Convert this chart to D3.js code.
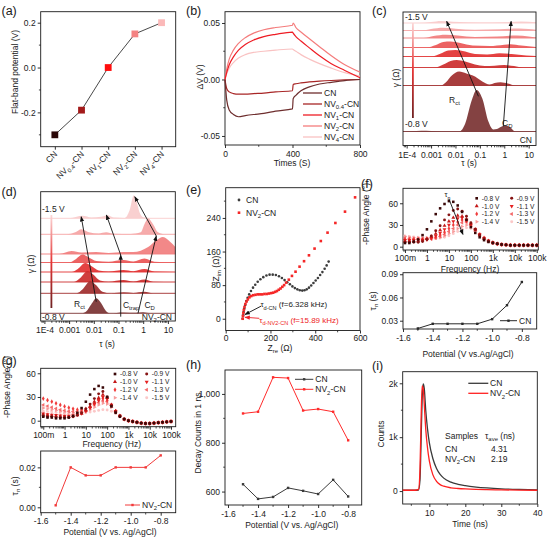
<!DOCTYPE html>
<html>
<head>
<meta charset="utf-8">
<title>flat-band / DRT / EIS / PL panels</title>
<script src="https://cdn.jsdelivr.net/npm/d3@7"></script>
<style>
  body { margin: 0; background: #fff; }
  svg { display: block; }
</style>
</head>
<body>
<script>
// ---------------- data ----------------
// (a) flat-band potential
var samples = ["CN", "NV_{0.4}-CN", "NV_{1}-CN", "NV_{2}-CN", "NV_{4}-CN"];
var flatBand = [-0.30, -0.19, 0.00, 0.15, 0.20];
var sampleColors = ["#2b0808", "#a31a1a", "#ff0d0d", "#f48383", "#fbb9b9"];

// (b) transient photovoltage, time in s
var timeB  = [0, 10, 25, 50, 80, 120, 170, 230, 300, 400, 404, 420, 450, 500, 560, 630, 710, 800];
var dvCN   = [0, -0.018, -0.027, -0.031, -0.033, -0.032, -0.031, -0.030, -0.028, -0.026, -0.017, -0.014, -0.010, -0.0065, -0.004, -0.0025, -0.001, 0];
var dvNV04 = [0, -0.008, -0.011, -0.0125, -0.013, -0.013, -0.0125, -0.012, -0.011, -0.010, -0.0045, -0.0038, -0.003, -0.0022, -0.0015, -0.0009, -0.0004, 0];
var dvNV1  = [0, 0.006, 0.013, 0.020, 0.026, 0.031, 0.035, 0.038, 0.040, 0.042, 0.041, 0.038, 0.034, 0.028, 0.021, 0.014, 0.008, 0.0015];
var dvNV2  = [0, 0.009, 0.018, 0.026, 0.032, 0.037, 0.041, 0.044, 0.046, 0.048, 0.050, 0.046, 0.042, 0.036, 0.029, 0.021, 0.013, 0.0065];
var dvNV4  = [0, 0.005, 0.010, 0.015, 0.019, 0.022, 0.024, 0.025, 0.026, 0.027, 0.0265, 0.025, 0.022, 0.018, 0.014, 0.010, 0.006, 0.003];
var bColors = ["#6e2e2e", "#a82626", "#ee1c24", "#f47c7c", "#f9c2c2"];

// (c) DRT of CN, [log10 tau, gamma] per potential (-0.8 V ... -1.5 V)
var drtC08 = [[-4.15,0],[-3.6,0.6],[-3.2,0.8],[-2.8,0.3],[-2.3,0],[-1.85,0],[-1.6,8],[-1.35,30],[-1.13,41.5],[-0.9,33],[-0.65,10],[-0.45,2],[-0.3,2.5],[-0.1,5],[0.05,6],[0.25,4],[0.45,0],[1.3,0]];
var drtC09 = [[-4.15,0],[-2.6,0],[-2.4,3],[-2.15,10],[-1.85,14],[-1.55,12],[-1.2,9],[-0.9,4],[-0.6,1],[-0.4,2.5],[-0.15,3.3],[0.15,2],[0.45,0],[1.3,0]];
var drtC10 = [[-4.15,0],[-2.85,0],[-2.5,3],[-2.2,6.5],[-1.95,7.6],[-1.6,6],[-1.2,3],[-0.8,1.5],[-0.4,1.8],[0,2.6],[0.4,1.5],[0.8,0],[1.3,0]];
var drtC11 = [[-4.15,0],[-3,0],[-2.6,3],[-2.3,6],[-2.0,6.6],[-1.6,5],[-1.2,2.5],[-0.7,2],[-0.2,3.3],[0.3,2.5],[0.9,1],[1.3,0.5]];
var drtC12 = [[-4.15,0],[-3.2,0],[-2.8,2.5],[-2.5,5.5],[-2.2,6],[-1.8,4.5],[-1.3,2],[-0.6,1.5],[0,2.8],[0.25,3.3],[0.7,2],[1.3,0.5]];
var drtC13 = [[-4.15,0],[-3.3,0],[-2.9,2],[-2.4,3.3],[-1.9,2.5],[-1.2,1],[-0.3,1.5],[0.5,2.5],[1.0,1.5],[1.3,0.5]];
var drtC14 = [[-4.15,0],[-3.4,0],[-3.0,1.5],[-2.5,2.7],[-2.0,1.8],[-1.2,0.8],[-0.2,1.2],[0.6,2],[1.0,1.5],[1.3,0.8]];
var drtC15 = [[-4.15,0],[-3.5,0],[-3,1],[-2.6,2],[-2.1,1.2],[-1,0.5],[0,0.8],[0.7,1.5],[1.3,0.8]];
var offsetsC = [14, 60, 78, 89, 98, 107.5, 115, 122.5];

// (d) DRT of NV2-CN
var drtD08 = [[-4.15,0],[-2.5,0],[-2.3,2],[-2.1,9],[-1.9,15],[-1.7,10],[-1.5,2],[-1.35,0],[-0.8,0.8],[-0.3,0.5],[0,1],[0.3,0],[1.3,0]];
var drtD09 = [[-4.15,0],[-2.7,0],[-2.45,4],[-2.15,12],[-1.9,8],[-1.65,1.5],[-1.3,0],[-0.8,1],[-0.4,0.3],[0.05,1.5],[0.4,0],[1.3,0]];
var drtD10 = [[-4.15,0],[-2.8,0],[-2.55,4],[-2.25,11],[-2.0,7],[-1.75,1.5],[-1.4,0.3],[-0.8,2],[-0.4,0.5],[0.05,2.5],[0.4,0.3],[1.3,0]];
var drtD11 = [[-4.15,0],[-2.9,0],[-2.65,3],[-2.35,9],[-2.1,6],[-1.8,1.5],[-1.4,0.5],[-0.8,2],[-0.4,0.8],[0.05,3],[0.45,0.5],[1.3,0]];
var drtD12 = [[-4.15,0],[-3.0,0],[-2.75,3],[-2.45,8],[-2.2,5],[-1.9,1.5],[-1.4,0.8],[-0.8,2.5],[-0.4,1],[0.05,4],[0.45,0.8],[1.3,0]];
var drtD13 = [[-4.15,0],[-3.4,0],[-2.9,3],[-2.5,1.5],[-1.9,2],[-1.4,1],[-0.8,2],[-0.4,2],[0.2,7],[0.55,14],[0.8,17],[1.1,12],[1.3,7]];
var drtD14 = [[-4.15,0],[-3.1,0],[-2.75,2],[-2.5,5],[-2.2,2],[-1.8,0.8],[-1.5,2],[-1.2,0.5],[-0.5,0.3],[-0.1,2],[0.05,10],[0.2,15.7],[0.4,10],[0.6,2],[0.9,0],[1.3,0]];
var drtD15 = [[-4.15,0],[-3.0,0],[-2.7,1.5],[-2.45,2.5],[-2.1,0.8],[-1.7,1.5],[-1.45,3],[-1.2,0.8],[-0.75,0.3],[-0.55,8],[-0.38,23],[-0.28,18],[-0.15,6],[0,1],[0.4,0],[1.3,0]];
var offsetsD = [7.7, 27.7, 39, 49, 58.5, 67, 86.7, 102.7];
var ridgeColors = ["#7a3232", "#a02c2c", "#cc2c2c", "#e23232", "#ea5656", "#f17e7e", "#f5a4a4", "#f9cccc"];
var tauTicks = [-4, -3, -2, -1, 0, 1];
var tauLabels = ["1E-4", "0.001", "0.01", "0.1", "1", "10"];

// (e) Nyquist plots, Ohm
var zreCN = [76,78,80,83,87,92,98,105,113,122,132,143,155,168,182,196,210,224,238,251,263,275,287,298,309,320,331,342,352,362,372,382,392,402,412,422,432,442,451,460];
var zimCN = [0,8,16,24,33,42,50,58,66,74,81,88,94,99,103,105,105,104,101,97,92,87,82,77,73,70,68,67,68,70,74,79,85,91,97,104,111,119,127,136];
var zreNV = [76,77,79,81,84,88,93,99,106,114,123,133,143,153,163,173,183,193,203,212,221,229,237,245,253,261,270,282,296,312,330,350,372,397,425,455,490,533,578];
var zimNV = [0,7,14,21,28,35,41,46,51,54,56,57,58,58,58,59,59,60,61,62,64,66,69,72,76,80,86,93,102,112,124,137,151,167,185,205,228,255,289];

// (f)(g) Bode phase, log10 frequency
var logFreq = [-1,-0.8,-0.6,-0.4,-0.2,0,0.2,0.4,0.6,0.8,1,1.2,1.4,1.6,1.8,2,2.2,2.4,2.6,2.8,3,3.2,3.4,3.6,3.8,4,4.2,4.4,4.6,4.8,5];
var freqTicks = [-1, 0, 1, 2, 3, 4, 5];
var freqLabels = ["100m", "1", "10", "100", "1k", "10k", "100k"];
var potLabels = ["-0.8 V", "-0.9 V", "-1.0 V", "-1.1 V", "-1.2 V", "-1.3 V", "-1.4 V", "-1.5 V"];
var phaseCN = [
  [5,5,7,10,16,24,35,45,53,59,63,62,57,48,37,27,19,13,9,6.5,5,4,3,2.5,2,2,2,2,2,2,2],
  [6,6,6,6,7,10,15,22,29,37,44,50,52,49,42,33,24,16,11,7.5,5.5,4,3,2.5,2,2,2,2,2,2,2],
  [8,8,8,8,9,11,14,18,23,29,35,40,43,42,38,31,23,16,11,7.5,5.5,4,3,2.5,2,2,2,2,2,2,2],
  [9,9,9,9,9,10,12,15,19,24,30,35,39,40,37,31,24,17,11.5,8,5.5,4,3,2.5,2,2,2,2,2,2,2],
  [10,10,10,10,10,10,11,13,16,20,25,30,34,37,35,30,24,17,12,8,5.5,4,3,2.5,2,2,2,2,2,2,2],
  [12,11.5,11,11,11,11,11,12,14,17,21,25,30,33,34,30,24,17,12,8,5.5,4,3,2.5,2,2,2,2,2,2,2],
  [14,13,12.5,12,12,12,12,12,13,15,18,21,25,28,30,28,23,17,12,8,5.5,4,3,2.5,2,2,2,2,2,2,2],
  [15,14,13.5,13,12.5,12,12,12,12,13,15,18,21,24,26,25,21,16,11.5,8,5.5,4,3,2.5,2,2,2,2,2,2,2]
];
var phaseNV = [
  [5,4,4,3,3,3,4,6,10,16,24,33,40,44,42,30,18,10,5,2,0,-1,-2,-3,-3.5,-3.5,-3,-2.5,-2,-1.5,-1],
  [6,5,5,4,4,4,4,5,7,10,15,21,28,34,37,30,19,11,6,2,0,-1,-2,-3,-3.5,-3.5,-3,-2.5,-2,-1.5,-1],
  [8,7,6.5,6,5.5,5,5,6,7,9,13,18,24,29,33,29,20,12,6,2,0,-1,-2,-3,-3.5,-3.5,-3,-2.5,-2,-1.5,-1],
  [9,8,7.5,7,6.5,6,6,6.5,7.5,9,12,16,21,26,30,28,20,12,6,2,0,-1,-2,-3,-3.5,-3.5,-3,-2.5,-2,-1.5,-1],
  [28,26,24,22,20,18,16.5,15,14,14,15,18,22,26,28,26,20,12,6,2,0,-1,-2,-3,-3.5,-3.5,-3,-2.5,-2,-1.5,-1],
  [20,18.5,17,15.5,14,13,12,11.5,11.5,12,14,17,20,23,25,24,19,12,6,2,0,-1,-2,-3,-3.5,-3.5,-3,-2.5,-2,-1.5,-1],
  [16,15,14,13,12,11,10.5,10,10,11,12,14,17,20,22,21,17,11,6,2,0,-1,-2,-3,-3.5,-3.5,-3,-2.5,-2,-1.5,-1],
  [12,11.5,11,10.5,10,9.5,9,9,9,9.5,10,11,12,13,14,13.5,12,9,5,2,0,-1,-2,-3,-3.5,-3.5,-3,-2.5,-2,-1.5,-1]
];
var phaseColors = ["#3a0808", "#861414", "#c41919", "#e62121", "#f03c3c", "#f46b6b", "#f79b9b", "#fbc8c8"];

// (f)(g)(h) potential sweeps, V vs. Ag/AgCl
var potentials = [-1.5, -1.4, -1.3, -1.2, -1.1, -1.0, -0.9, -0.8];
var tauCN = [0.020, 0.026, 0.026, 0.026, 0.026, 0.032, 0.050, 0.080];
var tauNV = [0.001, 0.020, 0.016, 0.016, 0.020, 0.020, 0.020, 0.026];
var decayCN = [630, 570, 578, 615, 603, 590, 648, 580];
var decayNV = [920, 927, 1068, 1065, 932, 938, 927, 810];

// (i) PL decay, ns / counts
var timeI = [2.6, 4, 6, 7, 7.4, 7.7, 8.0, 8.3, 8.6, 9, 9.5, 10, 11, 12, 13, 14, 16, 18, 20, 23, 26, 30, 35, 40];
var countCN = [15, 15, 15, 20, 200, 900, 1700, 1990, 1900, 1500, 1150, 900, 600, 420, 310, 240, 165, 125, 100, 75, 58, 42, 30, 22];
var countNV = [15, 15, 15, 30, 400, 1300, 1950, 1900, 1600, 1150, 800, 560, 300, 180, 120, 90, 60, 48, 40, 32, 27, 22, 18, 15];

// ---------------- helpers ----------------
var FONT = "'Liberation Sans', Arial, Helvetica, sans-serif";
var INK = "#1a1a1a";
var TF = 8.5; // tick font

var svg = d3.select("body").append("svg")
    .attr("width", 548).attr("height", 537)
    .attr("font-family", FONT);
var defs = svg.append("defs");

function rich(t, str, fs) {
  var parts = str.split(/(_\{[^}]*\})/), shift = fs * 0.28, down = false;
  parts.forEach(function (p) {
    if (!p) return;
    if (p.charAt(0) === "_" && p.charAt(1) === "{") {
      t.append("tspan").attr("dy", down ? 0 : shift).attr("font-size", fs * 0.7).text(p.slice(2, -1));
      down = true;
    } else {
      var s = t.append("tspan").text(p);
      if (down) { s.attr("dy", -shift); down = false; }
    }
  });
}
function txt(x, y, str, o) {
  o = o || {};
  var fs = o.fs || 9;
  var t = svg.append("text")
      .attr("font-size", fs).attr("fill", o.fill || INK)
      .attr("text-anchor", o.anchor || "start");
  if (o.rot) {
    t.attr("x", 0).attr("y", 0).attr("transform", "translate(" + x + "," + y + ") rotate(" + o.rot + ")");
  } else {
    t.attr("x", x).attr("y", y);
  }
  rich(t, str, fs);
  return t;
}
function yTitle(cx, cy, str, fs) { txt(cx + fs * 0.35, cy, str, {anchor: "middle", rot: -90, fs: fs}); }
function xTitle(cx, y, str, fs) { txt(cx, y, str, {anchor: "middle", fs: fs}); }
function panelLabel(x, y, s) { txt(x, y, s, {fs: 12.5}); }

function frame(p) {
  svg.append("rect").attr("x", p.l).attr("y", p.t)
     .attr("width", p.r - p.l).attr("height", p.b - p.t)
     .attr("fill", "none").attr("stroke", INK).attr("stroke-width", 0.9);
}
function axis(p, side, scale, vals, fmt, pad) {
  var ax = (side === "b" ? d3.axisBottom(scale) : d3.axisLeft(scale))
      .tickValues(vals).tickSizeOuter(0).tickSize(3)
      .tickPadding(pad == null ? 2 : pad);
  if (fmt) ax.tickFormat(fmt);
  var g = svg.append("g")
      .attr("transform", side === "b" ? "translate(0," + p.b + ")" : "translate(" + p.l + ",0)")
      .call(ax);
  g.select(".domain").remove();
  g.selectAll(".tick line").attr("stroke", INK).attr("stroke-width", 0.9);
  g.selectAll(".tick text").attr("fill", INK).attr("font-size", TF).attr("font-family", FONT);
  return g;
}
function minor(p, side, scale, vals) {
  svg.append("g").selectAll("line").data(vals).join("line")
    .attr("x1", function (v) { return side === "b" ? scale(v) : p.l - 1.8; })
    .attr("x2", function (v) { return side === "b" ? scale(v) : p.l; })
    .attr("y1", function (v) { return side === "b" ? p.b : scale(v); })
    .attr("y2", function (v) { return side === "b" ? p.b + 1.8 : scale(v); })
    .attr("stroke", INK).attr("stroke-width", 0.8);
}
function logMinor(domain) {
  var out = [];
  for (var dec = Math.floor(domain[0]); dec <= Math.ceil(domain[1]); dec++) {
    for (var k = 2; k <= 9; k++) {
      var v = dec + Math.log10(k);
      if (v > domain[0] && v < domain[1]) out.push(v);
    }
  }
  return out;
}
function fmtFix(n) { return function (d) { return d.toFixed(n); }; }

function makeMarker(id, col) {
  defs.append("marker").attr("id", id).attr("viewBox", "0 0 10 10")
    .attr("refX", 9).attr("refY", 5).attr("markerWidth", 6).attr("markerHeight", 6)
    .attr("orient", "auto")
    .append("path").attr("d", "M0,1 L10,5 L0,9 Z").attr("fill", col);
}
makeMarker("arrK", "#111");
makeMarker("arrR", "#ee1c24");

function arrow(xS, yS, seg, col, id, w) {
  svg.append("line")
    .attr("x1", xS(seg[0][0])).attr("y1", yS(seg[0][1]))
    .attr("x2", xS(seg[1][0])).attr("y2", yS(seg[1][1]))
    .attr("stroke", col).attr("stroke-width", w || 0.9)
    .attr("marker-end", "url(#" + id + ")");
}

var grad = defs.append("linearGradient").attr("id", "potGrad")
    .attr("x1", 0).attr("y1", 0).attr("x2", 0).attr("y2", 1);
grad.append("stop").attr("offset", "0%").attr("stop-color", "#fcd8d8");
grad.append("stop").attr("offset", "50%").attr("stop-color", "#e63636");
grad.append("stop").attr("offset", "100%").attr("stop-color", "#6e2222");

var symTypes = [d3.symbolSquare, d3.symbolCircle, d3.symbolTriangle, d3.symbolTriangle,
                d3.symbolDiamond, d3.symbolTriangle, d3.symbolTriangle, d3.symbolCircle];
var symRot = [0, 0, 0, 180, 0, -90, 90, 0];

// ---------------- (a) ----------------
var pA = {l: 40.7, t: 11.7, r: 175.7, b: 146.7};
var xA = d3.scalePoint().domain(samples).range([pA.l, pA.r]).padding(0.53);
var yA = d3.scaleLinear().domain([-0.353, 0.249]).range([pA.b, pA.t]);
frame(pA);
axis(pA, "l", yA, [-0.2, 0, 0.2], fmtFix(1));
minor(pA, "l", yA, [-0.3, -0.1, 0.1]);
axis(pA, "b", xA, samples, function () { return ""; });
samples.forEach(function (s) { txt(xA(s) + 3, pA.b + 8, s, {anchor: "end", rot: -45, fs: TF}); });
svg.append("path").datum(flatBand)
  .attr("fill", "none").attr("stroke", "#333").attr("stroke-width", 0.9)
  .attr("d", d3.line().x(function (d, i) { return xA(samples[i]); }).y(function (d) { return yA(d); }));
svg.append("g").selectAll("rect").data(flatBand).join("rect")
  .attr("x", function (d, i) { return xA(samples[i]) - 3.4; })
  .attr("y", function (d) { return yA(d) - 3.4; })
  .attr("width", 6.8).attr("height", 6.8)
  .attr("fill", function (d, i) { return sampleColors[i]; });
yTitle(15, 72, "Flat-band potential (V)", TF);
panelLabel(1.5, 14.5, "(a)");

// ---------------- (b) ----------------
var pB = {l: 225, t: 11.7, r: 360, b: 145};
var xB = d3.scaleLinear().domain([0, 800]).range([pB.l, pB.r]);
var yB = d3.scaleLinear().domain([-0.058, 0.06]).range([pB.b, pB.t]);
frame(pB);
axis(pB, "b", xB, [0, 400, 800], null, 3);
minor(pB, "b", xB, [200, 600]);
axis(pB, "l", yB, [-0.05, 0, 0.05], fmtFix(2));
minor(pB, "l", yB, [-0.025, 0.025]);
var dvSeries = [dvCN, dvNV04, dvNV1, dvNV2, dvNV4];
var lineB = d3.line().x(function (d, i) { return xB(timeB[i]); }).y(function (d) { return yB(d); })
    .curve(d3.curveMonotoneX);
for (var k = dvSeries.length - 1; k >= 0; k--) {
  svg.append("path").datum(dvSeries[k]).attr("fill", "none")
    .attr("stroke", bColors[k]).attr("stroke-width", 1.2).attr("d", lineB);
}
samples.forEach(function (s, i) {
  var y = 93 + i * 11;
  svg.append("line").attr("x1", 303).attr("x2", 322).attr("y1", y).attr("y2", y)
    .attr("stroke", bColors[i]).attr("stroke-width", 1.3);
  txt(324, y + 3, s, {fs: TF});
});
yTitle(200, 77, "ΔV (V)", TF);
xTitle(292, 166, "Times (S)", TF);
panelLabel(186, 14.5, "(b)");

// ---------------- ridge helper ----------------
function ridges(p, xS, yS, list, offsets) {
  for (var i = list.length - 1; i >= 0; i--) {
    var off = offsets[i];
    svg.append("path").datum(list[i])
      .attr("fill", ridgeColors[i]).attr("fill-opacity", 0.92)
      .attr("d", d3.area().x(function (d) { return xS(d[0]); })
        .y0(yS(off)).y1(function (d) { return yS(off + d[1]); })
        .curve(d3.curveMonotoneX));
    svg.append("line").attr("x1", p.l).attr("x2", p.r)
      .attr("y1", yS(off)).attr("y2", yS(off))
      .attr("stroke", ridgeColors[i]).attr("stroke-width", 0.9);
  }
}

// ---------------- (c) ----------------
var pC = {l: 403, t: 12, r: 536, b: 145.5};
var xC = d3.scaleLinear().domain([-4.15, 1.3]).range([pC.l, pC.r]);
var yC = d3.scaleLinear().domain([0, 133.5]).range([pC.b, pC.t]);
ridges(pC, xC, yC, [drtC08, drtC09, drtC10, drtC11, drtC12, drtC13, drtC14, drtC15], offsetsC);
frame(pC);
axis(pC, "b", xC, tauTicks, function (d, i) { return tauLabels[i]; }, 3);
minor(pC, "b", xC, logMinor(xC.domain()));
svg.append("rect").attr("x", 412).attr("y", 23).attr("width", 1.8).attr("height", 95).attr("fill", "url(#potGrad)");
txt(405, 20, "-1.5 V", {fs: TF});
txt(405, 126.5, "-0.8 V", {fs: TF});
txt(532, 142.5, "CN", {fs: TF, anchor: "end"});
arrow(xC, yC, [[-1.06, 49.2], [-2.36, 124.2]], "#111", "arrK");
arrow(xC, yC, [[-0.04, 19.2], [0.28, 124.2]], "#111", "arrK");
txt(xC(-2.26), yC(42.5), "R_{ct}", {fs: TF});
txt(xC(-0.09), yC(19.5), "C_{D}", {fs: TF});
yTitle(396.5, 78, "γ (Ω)", TF);
xTitle(469, 166, "τ (s)", TF);
panelLabel(372, 14.5, "(c)");

// ---------------- (d) ----------------
var pD = {l: 40.7, t: 191.7, r: 175.3, b: 321};
var xD = d3.scaleLinear().domain([-4.15, 1.3]).range([pD.l, pD.r]);
var yD = d3.scaleLinear().domain([0, 129.3]).range([pD.b, pD.t]);
ridges(pD, xD, yD, [drtD08, drtD09, drtD10, drtD11, drtD12, drtD13, drtD14, drtD15], offsetsD);
frame(pD);
axis(pD, "b", xD, tauTicks, function (d, i) { return tauLabels[i]; }, 3);
minor(pD, "b", xD, logMinor(xD.domain()));
svg.append("rect").attr("x", 50.5).attr("y", 215).attr("width", 1.8).attr("height", 93).attr("fill", "url(#potGrad)");
txt(42, 211.5, "-1.5 V", {fs: TF});
txt(42, 319.5, "-0.8 V", {fs: TF});
txt(172, 319.5, "NV_{2}-CN", {fs: TF, anchor: "end"});
[[[-1.9, 19.3], [-2.51, 104.3]],
 [[-0.91, 4.3], [-0.91, 66]], [[-0.91, 66], [-1.49, 106]],
 [[-0.21, 7.7], [0.53, 85]], [[0.53, 85], [-0.34, 124.3]]].forEach(function (s) {
  arrow(xD, yD, s, "#111", "arrK");
});
txt(xD(-2.8), yD(14), "R_{ct}", {fs: TF});
txt(xD(-0.82), yD(13), "C_{trap}", {fs: TF});
txt(xD(0.05), yD(13), "C_{D}", {fs: TF});
yTitle(31.5, 264, "γ (Ω)", TF);
xTitle(107, 347, "τ (s)", TF);
panelLabel(1.5, 196, "(d)");

// ---------------- (e) ----------------
var pE = {l: 225.7, t: 187.7, r: 360, b: 330.5};
var xE = d3.scaleLinear().domain([0, 600]).range([pE.l, pE.r]);
var yE = d3.scaleLinear().domain([-28, 312]).range([pE.b, pE.t]);
frame(pE);
axis(pE, "b", xE, [0, 200, 400, 600], null, 1.5);
minor(pE, "b", xE, [100, 300, 500]);
axis(pE, "l", yE, [0, 80, 160, 240]);
minor(pE, "l", yE, [40, 120, 200, 280]);
svg.append("g").selectAll("circle").data(zreCN).join("circle")
  .attr("cx", function (d) { return xE(d); })
  .attr("cy", function (d, i) { return yE(zimCN[i]); })
  .attr("r", 1.3).attr("fill", "#3d3d3d");
svg.append("g").selectAll("rect").data(zreNV).join("rect")
  .attr("x", function (d) { return xE(d) - 1.3; })
  .attr("y", function (d, i) { return yE(zimNV[i]) - 1.3; })
  .attr("width", 2.6).attr("height", 2.6).attr("fill", "#f52727");
svg.append("circle").attr("cx", 239).attr("cy", 200).attr("r", 1.4).attr("fill", "#3d3d3d");
svg.append("rect").attr("x", 237.7).attr("y", 211.4).attr("width", 2.6).attr("height", 2.6).attr("fill", "#f52727");
txt(246, 203, "CN", {fs: TF});
txt(246, 215.5, "NV_{2}-CN", {fs: TF});
arrow(xE, yE, [[158, 30], [86, 10]], "#111", "arrK");
arrow(xE, yE, [[150, 1], [86, 3.5]], "#ee1c24", "arrR");
txt(xE(155), yE(27), "τ_{d-CN} (f=6.328 kHz)", {fs: 8});
txt(xE(150), yE(-9), "τ_{d-NV2-CN} (f=15.89 kHz)", {fs: 8, fill: "#ee1c24"});
yTitle(216, 270, "-Z_{im} (Ω)", TF);
xTitle(280, 351, "Z_{re} (Ω)", TF);
panelLabel(186, 194, "(e)");

// ---------------- phase helpers ----------------
function phaseDots(xS, yS, series) {
  for (var i = series.length - 1; i >= 0; i--) {
    (function (i) {
      svg.append("g").selectAll("path").data(series[i]).join("path")
        .attr("d", d3.symbol().type(symTypes[i]).size(6.5))
        .attr("transform", function (d, j) {
          return "translate(" + xS(logFreq[j]) + "," + yS(d) + ") rotate(" + symRot[i] + ")";
        })
        .attr("fill", phaseColors[i]);
    })(i);
  }
}
function phaseLegend(x1, x2, y0, dy) {
  potLabels.forEach(function (lab, i) {
    var x = (i % 2) ? x2 : x1, y = y0 + Math.floor(i / 2) * dy;
    svg.append("path").attr("d", d3.symbol().type(symTypes[i]).size(7))
      .attr("transform", "translate(" + x + "," + y + ") rotate(" + symRot[i] + ")")
      .attr("fill", phaseColors[i]);
    txt(x + 5, y + 2.4, lab, {fs: 6.6});
  });
}
function sweepLine(xS, yS, vals, col) {
  svg.append("path").datum(vals).attr("fill", "none").attr("stroke", col).attr("stroke-width", 1)
    .attr("d", d3.line().x(function (d, i) { return xS(potentials[i]); }).y(function (d) { return yS(d); }));
  svg.append("g").selectAll("rect").data(vals).join("rect")
    .attr("x", function (d, i) { return xS(potentials[i]) - 1.2; })
    .attr("y", function (d) { return yS(d) - 1.2; })
    .attr("width", 2.4).attr("height", 2.4).attr("fill", col);
}
function sweepLegend(x1, x2, y, lab, col) {
  svg.append("line").attr("x1", x1).attr("x2", x2).attr("y1", y).attr("y2", y)
    .attr("stroke", col).attr("stroke-width", 1);
  svg.append("rect").attr("x", (x1 + x2) / 2 - 1.2).attr("y", y - 1.2)
    .attr("width", 2.4).attr("height", 2.4).attr("fill", col);
  txt(x2 + 2, y + 3, lab, {fs: TF});
}
var potTicks = [-1.6, -1.4, -1.2, -1.0, -0.8];
var potMinor = [-1.5, -1.3, -1.1, -0.9];

// ---------------- (f) ----------------
var pF1 = {l: 403, t: 188.3, r: 538.3, b: 250};
var xF1 = d3.scaleLinear().domain([-1.09, 5.07]).range([pF1.l, pF1.r]);
var yF1 = d3.scaleLinear().domain([-4.6, 80.7]).range([pF1.b, pF1.t]);
frame(pF1);
axis(pF1, "b", xF1, freqTicks, function (d, i) { return freqLabels[i]; }, 1.5);
minor(pF1, "b", xF1, logMinor(xF1.domain()));
axis(pF1, "l", yF1, [0, 30, 60]);
phaseDots(xF1, yF1, phaseCN);
phaseLegend(476.7, 511.7, 198.3, 7.8);
arrow(xF1, yF1, [[1.0, 66], [1.64, 17]], "#111", "arrK");
txt(xF1(0.8), yF1(68), "τ_{n}", {fs: 7.5});
yTitle(366, 214, "-Phase Angle (°)", TF);
xTitle(470, 271.5, "Frequency (Hz)", TF);

var pF2 = {l: 403, t: 272.7, r: 536.7, b: 329};
var xF2 = d3.scaleLinear().domain([-1.6, -0.7]).range([pF2.l, pF2.r]);
var yF2 = d3.scaleLinear().domain([0.0193, 0.092]).range([pF2.b, pF2.t]);
frame(pF2);
axis(pF2, "b", xF2, potTicks, fmtFix(1), 2.5);
minor(pF2, "b", xF2, potMinor);
axis(pF2, "l", yF2, [0.03, 0.06, 0.09], fmtFix(2));
sweepLine(xF2, yF2, tauCN, "#2a2a2a");
sweepLegend(500, 517, 320.7, "CN", "#2a2a2a");
yTitle(373, 301, "τ_{n} (s)", TF);
xTitle(468, 357, "Potential (V vs.Ag/AgCl)", TF);
panelLabel(361, 187.5, "(f)");

// ---------------- (g) ----------------
var pG1 = {l: 40.7, t: 368.3, r: 175.7, b: 426.7};
var xG1 = d3.scaleLinear().domain([-1.12, 5.22]).range([pG1.l, pG1.r]);
var yG1 = d3.scaleLinear().domain([-7.6, 66.3]).range([pG1.b, pG1.t]);
frame(pG1);
axis(pG1, "b", xG1, freqTicks, function (d, i) { return freqLabels[i]; }, 2);
minor(pG1, "b", xG1, logMinor(xG1.domain()));
axis(pG1, "l", yG1, [0, 30, 60]);
phaseDots(xG1, yG1, phaseNV);
phaseLegend(115, 146.7, 374, 7.9);
yTitle(7, 387, "-Phase Angle (°)", TF);
xTitle(111.7, 447, "Frequency (Hz)", TF);

var pG2 = {l: 40.7, t: 451, r: 175.7, b: 512.7};
var xG2 = d3.scaleLinear().domain([-1.6, -0.7]).range([pG2.l, pG2.r]);
var yG2 = d3.scaleLinear().domain([-0.0027, 0.0282]).range([pG2.b, pG2.t]);
frame(pG2);
axis(pG2, "b", xG2, potTicks, fmtFix(1), 2.5);
minor(pG2, "b", xG2, potMinor);
axis(pG2, "l", yG2, [0, 0.02], fmtFix(2));
minor(pG2, "l", yG2, [0.01]);
sweepLine(xG2, yG2, tauNV, "#f23a3a");
sweepLegend(125, 140, 505, "NV_{2}-CN", "#f23a3a");
yTitle(15, 486, "τ_{n} (s)", TF);
xTitle(110, 535, "Potential (V vs. Ag/AgCl)", TF);
panelLabel(1.5, 364.5, "(g)");

// ---------------- (h) ----------------
var pH = {l: 225, t: 370, r: 361.7, b: 505};
var xH = d3.scaleLinear().domain([-1.62, -0.71]).range([pH.l, pH.r]);
var yH = d3.scaleLinear().domain([545, 1098]).range([pH.b, pH.t]);
frame(pH);
axis(pH, "b", xH, potTicks, fmtFix(1), 3);
minor(pH, "b", xH, potMinor);
axis(pH, "l", yH, [600, 800, 1000]);
minor(pH, "l", yH, [700, 900]);
sweepLine(xH, yH, decayCN, "#3a3a3a");
sweepLine(xH, yH, decayNV, "#ff2a2a");
sweepLegend(295, 313.3, 379.3, "CN", "#3a3a3a");
sweepLegend(295, 313.3, 389.3, "NV_{2}-CN", "#ff2a2a");
yTitle(198, 433, "Decay Counts in 1 ns", TF);
xTitle(291.7, 527.5, "Potential (V vs. Ag/AgCl)", TF);
panelLabel(186, 368.5, "(h)");

// ---------------- (i) ----------------
var pI = {l: 402.7, t: 371.7, r: 537.3, b: 504};
var xI = d3.scaleLinear().domain([2.6, 40]).range([pI.l, pI.r]);
var yI = d3.scaleLinear().domain([-240, 2215]).range([pI.b, pI.t]);
frame(pI);
axis(pI, "b", xI, [10, 20, 30, 40], null, 3);
minor(pI, "b", xI, [5, 15, 25, 35]);
axis(pI, "l", yI, [0, 1000, 2000], function (d) { return d === 0 ? "0" : (d / 1000) + "k"; });
minor(pI, "l", yI, [500, 1500]);
var lineI = d3.line().x(function (d, i) { return xI(timeI[i]); }).y(function (d) { return yI(d); })
    .curve(d3.curveMonotoneX);
svg.append("path").datum(countCN).attr("fill", "none").attr("stroke", "#3a3a3a").attr("stroke-width", 1.3).attr("d", lineI);
svg.append("path").datum(countNV).attr("fill", "none").attr("stroke", "#ff2020").attr("stroke-width", 1.3).attr("d", lineI);
[["CN", "#3a3a3a", 383.3], ["NV_{2}-CN", "#ff2020", 393.3]].forEach(function (l) {
  svg.append("line").attr("x1", 468.3).attr("x2", 488.3).attr("y1", l[2]).attr("y2", l[2])
    .attr("stroke", l[1]).attr("stroke-width", 1.3);
  txt(490, l[2] + 3, l[0], {fs: TF});
});
txt(445, 439, "Samples", {fs: TF});
txt(485, 439, "τ_{ave} (ns)", {fs: TF});
txt(445, 451.5, "CN", {fs: TF});
txt(491, 451.5, "4.31", {fs: TF});
txt(445, 462, "NV_{2}-CN", {fs: TF});
txt(491, 462, "2.19", {fs: TF});
yTitle(381.5, 434, "Counts", TF);
xTitle(470, 526.5, "Time (ns)", TF);
panelLabel(372, 370, "(i)");
</script>
</body>
</html>
